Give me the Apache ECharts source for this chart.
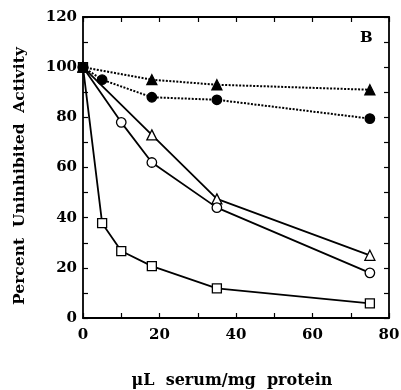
<!DOCTYPE html>
<html><head><meta charset="utf-8">
<script src="https://cdn.jsdelivr.net/npm/echarts@6/dist/echarts.min.js"></script>
<style>html,body{margin:0;padding:0;background:#fff}#c{width:401px;height:390px}</style>
</head><body><div id="c"></div>
<script>
const filledTriangle = [[0,100],[18,95],[35,93],[75,91]];
const filledCircle = [[0,100],[5,95],[18,88],[35,87],[75,79.5]];
const openTriangle = [[0,100],[18,73],[35,47.5],[75,25]];
const openCircle = [[0,100],[10,78],[18,62],[35,44],[75,18]];
const openSquare = [[0,100],[5,37.8],[10,26.7],[18,20.7],[35,11.8],[75,5.8]];
const xTicks = [0,20,40,60,80];
const yTicks = [0,20,40,60,80,100,120];

const font = 'DejaVu Serif';
const chart = echarts.init(document.getElementById('c'));
function ser(data, symbol, filled, dotted, z) {
  return {
    type: 'line', data: data, symbol: symbol, symbolSize: symbol==='rect'?9:(symbol==='triangle'?10:9.5),
    showAllSymbol: true, z: z,
    lineStyle: {color:'#000', width: dotted?2:1.8, type: dotted?[2,1.5]:'solid'},
    itemStyle: {color: filled?'#000':'#fff', borderColor:'#000', borderWidth:1.3},
    emphasis: {disabled:true}, animation:false
  };
}
const axLine = {show:true, onZero:false, lineStyle:{color:'#000', width:1.8}};
const tick = {inside:true, length:5, lineStyle:{color:'#000', width:1.2}};
chart.setOption({
  animation:false,
  grid:{left:83, right:12, top:17, bottom:72, outerBoundsMode:'none', containLabel:false},
  xAxis:[{
    type:'value', min:0, max:80, interval:10,
    axisLine:axLine, axisTick:tick,
    splitLine:{show:false},
    axisLabel:{color:'#000', fontFamily:font, fontWeight:'bold', fontSize:15, margin:10,
      formatter:v=>xTicks.includes(v)?String(v):''}
  },{
    type:'value', min:0, max:80, interval:10, position:'top',
    axisLine:axLine, axisTick:tick,
    splitLine:{show:false}, axisLabel:{show:false}
  }],
  yAxis:[{
    type:'value', min:0, max:120, interval:10,
    axisLine:axLine, axisTick:tick,
    splitLine:{show:false},
    axisLabel:{color:'#000', fontFamily:font, fontWeight:'bold', fontSize:15, margin:6,
      formatter:v=>yTicks.includes(v)?String(v):''}
  },{
    type:'value', min:0, max:120, interval:10, position:'right',
    axisLine:axLine, axisTick:tick,
    splitLine:{show:false}, axisLabel:{show:false}
  }],
  graphic:[
    {type:'text', left:360, top:31, style:{text:'B', fill:'#000', font:'bold 15px "DejaVu Serif"'}},
    {type:'text', x:20, y:176, rotation:Math.PI/2,
      style:{text:'Percent  Uninhibited  Activity', fill:'#000', font:'bold 15.5px "DejaVu Serif"', align:'center', verticalAlign:'middle'}},
    {type:'text', x:232, y:381,
      style:{text:'\u03bcL  serum/mg  protein', fill:'#000', font:'bold 16px "DejaVu Serif"', align:'center', verticalAlign:'middle'}}
  ],
  series:[
    ser(openTriangle,'triangle',false,false,4),
    ser(openCircle,'circle',false,false,4),
    ser(openSquare,'rect',false,false,5),
    ser(filledTriangle,'triangle',true,true,6),
    ser(filledCircle,'circle',true,true,6)
  ]
});
</script></body></html>
